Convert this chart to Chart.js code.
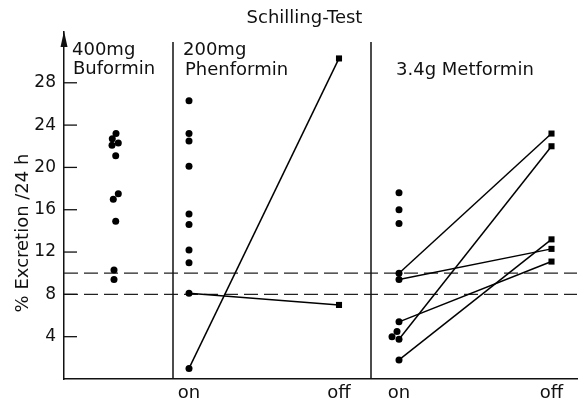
<!DOCTYPE html>
<html><head><meta charset="utf-8">
<script src="https://cdn.jsdelivr.net/npm/chart.js@4/dist/chart.umd.min.js"></script>
<style>html,body{margin:0;padding:0;background:#fff;}</style>
</head><body>
<canvas id="c" width="584" height="408"></canvas>
<script>
// ---- text ----
const chartTitle = 'Schilling-Test';
const yAxisTitle = '% Excretion /24 h';
const panelLabels = [['400mg', 'Buformin'], ['200mg', 'Phenformin'], ['3.4g Metformin']];
const yTickValues = [4, 8, 12, 16, 20, 24, 28];
const xTickLabels = ['on', 'off', 'on', 'off'];

// ---- data (% excretion / 24 h) ----
const buforminValues = [23.2, 22.7, 22.3, 22.1, 21.1, 17.5, 17.0, 14.9, 10.3, 9.4];
const phenforminOnOnly = [26.3, 23.2, 22.5, 20.1, 15.6, 14.6, 12.2, 11.0];
const phenforminOn = [8.1, 1.0];
const phenforminOff = [7.0, 30.3];
const metforminOnOnly = [17.6, 16.0, 14.7, 4.5, 4.0];
const metforminOn = [10.0, 9.4, 5.4, 3.75, 1.8];
const metforminOff = [23.2, 12.3, 11.1, 22.0, 13.2];
const referenceLines = [10, 8];

// ---- layout (x positions in axis units, separate from data) ----
const X = { buformin: 1.0, phenOn: 2.5, phenOff: 5.5, metOn: 6.7, metOff: 9.75,
            divider1: 2.18, divider2: 6.14, max: 10.26 };
const buforminJitter = [0.04, -0.034, 0.086, -0.04, 0.034, 0.086, -0.014, 0.034, 0, 0];
const metforminJitter = [0, 0, 0, -0.04, -0.14];
const Y = { min: 0, max: 32.8, dividerTop: 31.85 };

const FONT = 'DejaVu Sans';
Chart.defaults.font.family = FONT;
Chart.defaults.color = '#111';

const dot = { pointStyle: 'circle', pointRadius: 3.5, backgroundColor: '#000', borderColor: '#000', borderWidth: 0, showLine: false };

const datasets = [];
datasets.push(Object.assign({ label: 'Buformin', data: buforminValues.map((v, i) => ({ x: X.buformin + buforminJitter[i], y: v })) }, dot));
datasets.push(Object.assign({ label: 'Phenformin on', data: phenforminOnOnly.map(v => ({ x: X.phenOn, y: v })) }, dot));
datasets.push(Object.assign({ label: 'Metformin on', data: metforminOnOnly.map((v, i) => ({ x: X.metOn + metforminJitter[i], y: v })) }, dot));

function pairSet(label, xOn, xOff, on, off) {
  return {
    label, data: [{ x: xOn, y: on }, { x: xOff, y: off }], showLine: true,
    borderColor: '#000', borderWidth: 1.5, backgroundColor: '#000',
    pointStyle: ['circle', 'rect'], pointRadius: [3.5, 4.3], pointBorderWidth: 0
  };
}
phenforminOn.forEach((v, i) => datasets.push(pairSet('Phenformin ' + i, X.phenOn, X.phenOff, v, phenforminOff[i])));
metforminOn.forEach((v, i) => datasets.push(pairSet('Metformin ' + i, X.metOn, X.metOff, v, metforminOff[i])));
referenceLines.forEach(v => datasets.push({
  label: 'ref ' + v, data: [{ x: 0, y: v }, { x: X.max, y: v }], showLine: true,
  borderColor: '#222', borderWidth: 1.2, borderDash: [14, 6], pointRadius: 0
}));

const decor = {
  id: 'decor',
  afterDraw(chart) {
    const ctx = chart.ctx, xs = chart.scales.x, ys = chart.scales.y;
    const left = xs.left, bottom = ys.bottom, top = ys.top;
    ctx.save();
    ctx.strokeStyle = '#111'; ctx.fillStyle = '#111';
    // inner tick marks
    ctx.lineWidth = 1.3;
    yTickValues.forEach(v => {
      const py = ys.getPixelForValue(v);
      ctx.beginPath(); ctx.moveTo(left, py); ctx.lineTo(left + 13, py); ctx.stroke();
    });
    // arrow head
    ctx.beginPath(); ctx.moveTo(left, top - 1); ctx.lineTo(left - 3.5, top + 15); ctx.lineTo(left + 3.5, top + 15); ctx.closePath(); ctx.fill();
    // panel dividers
    ctx.lineWidth = 1.5;
    [X.divider1, X.divider2].forEach(d => {
      const px = xs.getPixelForValue(d);
      ctx.beginPath(); ctx.moveTo(px, ys.getPixelForValue(Y.dividerTop)); ctx.lineTo(px, bottom); ctx.stroke();
    });
    // texts
    ctx.font = '18px "' + FONT + '"';
    ctx.textBaseline = 'alphabetic'; ctx.textAlign = 'left';
    ctx.fillText(panelLabels[0][0], left + 8, 55);
    ctx.fillText(panelLabels[0][1], left + 9, 74);
    const d1 = xs.getPixelForValue(X.divider1), d2 = xs.getPixelForValue(X.divider2);
    ctx.fillText(panelLabels[1][0], d1 + 10, 55);
    ctx.fillText(panelLabels[1][1], d1 + 12, 74.5);
    ctx.fillText(panelLabels[2][0], d2 + 25, 75);
    ctx.textAlign = 'center';
    ctx.fillText(chartTitle, 304.5, 23);
    ctx.translate(23.5, 233); ctx.rotate(-Math.PI / 2);
    ctx.textBaseline = 'middle';
    ctx.fillText(yAxisTitle, 0, 0);
    ctx.restore();
  }
};

new Chart(document.getElementById('c'), {
  type: 'scatter',
  data: { datasets },
  options: {
    responsive: false, animation: false, devicePixelRatio: 1,
    layout: { padding: { top: 32, right: 7, bottom: 0, left: 0 } },
    plugins: { legend: { display: false }, tooltip: { enabled: false }, title: { display: false } },
    scales: {
      x: {
        type: 'linear', min: 0, max: X.max,
        grid: { display: false, drawTicks: false },
        border: { display: true, color: '#111', width: 1.5 },
        afterBuildTicks: s => { s.ticks = [X.phenOn, X.phenOff, X.metOn, X.metOff].map(v => ({ value: v })); },
        afterFit: s => { s.height = 29; },
        ticks: { autoSkip: false, maxRotation: 0, padding: 4, font: { size: 18 }, color: '#111',
                 callback: (v, i) => xTickLabels[i] }
      },
      y: {
        type: 'linear', min: Y.min, max: Y.max,
        grid: { display: false, drawTicks: false },
        border: { display: true, color: '#111', width: 1.5 },
        afterBuildTicks: s => { s.ticks = yTickValues.map(v => ({ value: v })); },
        afterFit: s => { s.width = 64; },
        ticks: { padding: 8, font: { size: 17 }, color: '#111', callback: v => String(v) }
      }
    }
  },
  plugins: [decor]
});
</script>
</body></html>
